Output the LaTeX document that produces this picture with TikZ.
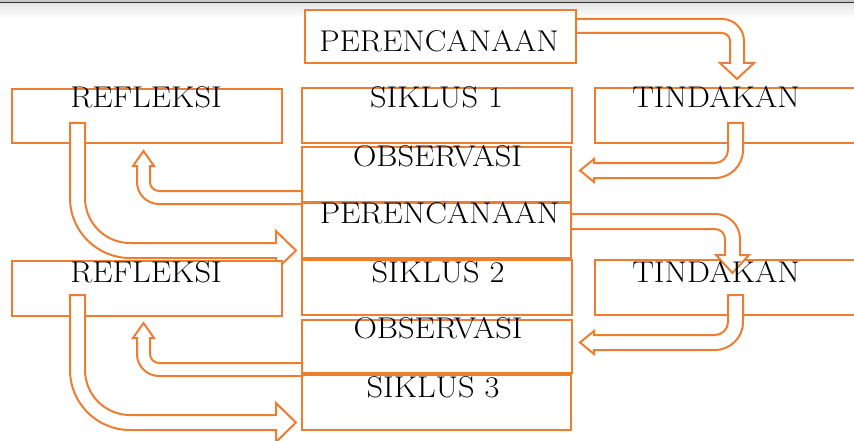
\documentclass[tikz,border=0pt]{standalone}
\usepackage{fontspec}
\definecolor{orng}{HTML}{ED7D31}
\tikzset{
  box/.style={draw=orng, line width=2.6pt, fill=white, inner sep=0pt, outer sep=0pt},
  blockarrow/.style={draw=orng, line width=2pt, fill=white, line join=miter},
  lbl/.style={anchor=base, inner sep=0pt, font=\fontsize{30}{30}\selectfont, text=black},
}
% labels are set a little wider than the plain font
\newcommand{\widetxt}[1]{\scalebox{1.08}[1]{#1}}
% block arrow from TINDAKAN down and left to OBSERVASI
\newcommand{\arrTinObs}{%
  \draw[blockarrow] (728,123) -- (743,123) -- (743,150)
    .. controls (743,165.46) and (730.46,178) .. (715,178)
    -- (594,178) -- (594,182) -- (580,170.5) -- (594,159) -- (594,163)
    -- (715,163) .. controls (722.18,163) and (728,157.18) .. (728,150) -- cycle;}
% block arrow from OBSERVASI left and up to REFLEKSI
\newcommand{\arrObsRef}{%
  \draw[blockarrow] (302,191) -- (159,191)
    .. controls (154.03,191) and (150,186.97) .. (150,182)
    -- (150,166) -- (154,166) -- (143.5,151) -- (133,166) -- (137,166) -- (137,182)
    .. controls (137,194.15) and (146.85,204) .. (159,204) -- (302,204) -- cycle;}
% block arrow from REFLEKSI down and right to the next cycle
\newcommand{\arrRefNext}{%
  \draw[blockarrow] (70,123) -- (85,123) -- (85,198)
    .. controls (85,222.85) and (105.15,243) .. (130,243)
    -- (276,243) -- (276,231) -- (296,250.5) -- (276,270) -- (276,258)
    -- (130,258) .. controls (96.86,258) and (70,231.14) .. (70,198) -- cycle;}
\begin{document}
\begin{tikzpicture}[x=1pt,y=-1pt]
\useasboundingbox (0,0) rectangle (854,441);
\clip (0,0) rectangle (854,441);

% window edge at the top
\fill[gray!45] (0,0) rectangle (854,2);
\fill[gray!40!black] (0,2) rectangle (854,3.4);
\shade[top color=gray!20, bottom color=white] (0,3.4) rectangle (854,18);

% first cycle
\node[box, minimum width=271pt, minimum height=53pt] (per0) at (440.5,36.5) {};
\draw[blockarrow] (576,19) -- (722,19)
  .. controls (734.15,19) and (744,28.85) .. (744,41)
  -- (744,63) -- (754,63) -- (737,79) -- (720,63) -- (730,63) -- (730,41)
  .. controls (730,36.58) and (726.42,33) .. (722,33) -- (576,33) -- cycle;

\node[box, minimum width=270pt, minimum height=54pt] (ref1) at (147,116) {};
\node[box, minimum width=270pt, minimum height=55pt] (sik1) at (437,115.5) {};
\node[box, minimum width=275pt, minimum height=55pt] (tin1) at (732.5,115.5) {};
\node[box, minimum width=269pt, minimum height=55pt] (obs1) at (436.5,174.5) {};
\node[box, minimum width=269pt, minimum height=55pt] (per1) at (436.5,230.5) {};

\arrTinObs
\arrObsRef
\arrRefNext

% second cycle
\node[box, minimum width=270pt, minimum height=55pt] (sik2) at (437,287.5) {};
\node[box, minimum width=275pt, minimum height=55pt] (tin2) at (732.5,287.5) {};
\node[box, minimum width=270pt, minimum height=55pt] (ref2) at (147,288.5) {};
\node[box, minimum width=270pt, minimum height=53pt] (obs2) at (437,346.5) {};
\node[box, minimum width=269pt, minimum height=55pt] (sik3) at (436.5,402.5) {};

\draw[blockarrow] (571,214) -- (715,214)
  .. controls (728.81,214) and (740,225.19) .. (740,239)
  -- (740,255) -- (749,255) -- (732.5,273) -- (716,255) -- (725,255) -- (725,239)
  .. controls (725,233.48) and (720.52,229) .. (715,229) -- (571,229) -- cycle;

\begin{scope}[shift={(0,172)}]
  \arrTinObs
  \arrObsRef
  \arrRefNext
\end{scope}

% labels
\node[lbl] (tPer0) at (439,52) {\widetxt{PERENCANAAN}};
\node[lbl] (tRef1) at (146,108) {\widetxt{REFLEKSI}};
\node[lbl] (tSik1) at (436.5,108) {\widetxt{SIKLUS 1}};
\node[lbl] (tTin1) at (716,108) {\widetxt{TINDAKAN}};
\node[lbl] (tObs1) at (437.5,166) {\widetxt{OBSERVASI}};
\node[lbl] (tPer1) at (439.5,223) {\widetxt{PERENCANAAN}};
\node[lbl] (tSik2) at (438,282) {\widetxt{SIKLUS 2}};
\node[lbl] (tTin2) at (716,282) {\widetxt{TINDAKAN}};
\node[lbl] (tRef2) at (146,282) {\widetxt{REFLEKSI}};
\node[lbl] (tObs2) at (438,338) {\widetxt{OBSERVASI}};
\node[lbl] (tSik3) at (433,397) {\widetxt{SIKLUS 3}};
\end{tikzpicture}
\end{document}
